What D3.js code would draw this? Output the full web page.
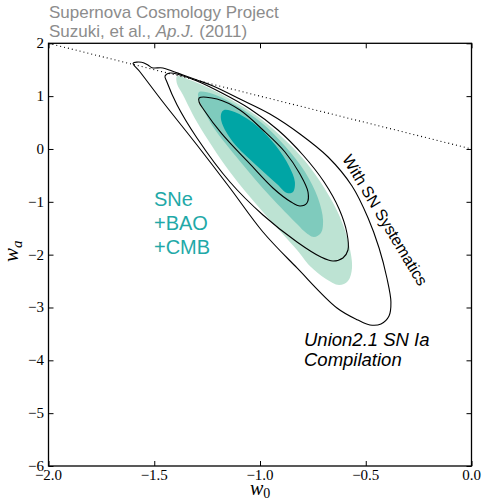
<!DOCTYPE html>
<html>
<head>
<meta charset="utf-8">
<script src="https://cdn.jsdelivr.net/npm/d3@7"></script>
<style>
  body { margin: 0; background: #fff; }
  svg { display: block; }
</style>
</head>
<body>
<svg id="chart" width="483" height="500"></svg>
<script>
// axis ticks
var xTicks = [-2.0, -1.5, -1.0, -0.5, 0.0];
var xTickLabels = ["\u22122.0", "\u22121.5", "\u22121.0", "\u22120.5", "0.0"];
var yTicks = [2, 1, 0, -1, -2, -3, -4, -5, -6];
var yTickLabels = ["2", "1", "0", "\u22121", "\u22122", "\u22123", "\u22124", "\u22125", "\u22126"];

// w0 + wa = 0 boundary
var boundary = [[-2.0, 2.0], [0.0, 0.0]];

// SNe+BAO+CMB filled contours, [w0, wa]
var fill3 = [
  [-1.392, 1.381], [-1.331, 1.305], [-1.251, 1.173], [-1.142, 0.946], [-1.014, 0.624],
  [-0.896, 0.227], [-0.787, -0.228], [-0.693, -0.757], [-0.622, -1.287], [-0.579, -1.817],
  [-0.565, -2.252], [-0.584, -2.498], [-0.626, -2.574], [-0.688, -2.461], [-0.764, -2.215],
  [-0.825, -1.912], [-0.986, -1.193], [-1.142, -0.436], [-1.298, 0.511], [-1.364, 1.022],
  [-1.392, 1.230]
];
var fill2 = [
  [-1.288, 1.078], [-1.222, 1.041], [-1.109, 0.813], [-0.991, 0.492], [-0.882, 0.056],
  [-0.787, -0.436], [-0.726, -0.928], [-0.702, -1.344], [-0.712, -1.590], [-0.745, -1.666],
  [-0.792, -1.552], [-0.825, -1.420], [-0.953, -0.890], [-1.095, -0.230], [-1.222, 0.420],
  [-1.279, 0.851], [-1.293, 1.003]
];
var fill1 = [
  [-1.170, 0.738], [-1.109, 0.681], [-1.014, 0.435], [-0.924, 0.056], [-0.863, -0.322],
  [-0.835, -0.625], [-0.844, -0.814], [-0.872, -0.833], [-0.920, -0.663], [-1.014, -0.322],
  [-1.128, 0.132], [-1.180, 0.492], [-1.184, 0.662]
];

// black contours, with SN systematics
var sysOuter = [
  [-1.600, 1.622], [-1.559, 1.640], [-1.530, 1.589], [-1.511, 1.538], [-1.459, 1.533],
  [-1.416, 1.476], [-1.364, 1.400], [-1.298, 1.305], [-1.222, 1.192], [-1.095, 0.946],
  [-0.953, 0.662], [-0.811, 0.284], [-0.678, -0.152], [-0.565, -0.701], [-0.489, -1.306],
  [-0.437, -1.874], [-0.400, -2.442], [-0.381, -2.896], [-0.390, -3.161], [-0.428, -3.312],
  [-0.480, -3.331], [-0.537, -3.237], [-0.636, -3.009], [-0.825, -2.252], [-0.986, -1.571],
  [-1.142, -0.738], [-1.298, 0.075], [-1.459, 0.889], [-1.567, 1.457]
];
var sysMiddle = [
  [-1.449, 1.381], [-1.426, 1.438], [-1.378, 1.400], [-1.298, 1.287], [-1.180, 1.059],
  [-1.047, 0.757], [-0.915, 0.359], [-0.797, -0.114], [-0.697, -0.625], [-0.626, -1.136],
  [-0.589, -1.590], [-0.584, -1.912], [-0.608, -2.063], [-0.655, -2.120], [-0.712, -2.044],
  [-0.825, -1.760], [-0.986, -1.249], [-1.142, -0.625], [-1.298, 0.208], [-1.392, 0.832],
  [-1.440, 1.268]
];
var sysInner = [
  [-1.288, 0.965], [-1.203, 0.946], [-1.095, 0.738], [-0.986, 0.359], [-0.882, -0.057],
  [-0.811, -0.474], [-0.773, -0.814], [-0.778, -1.022], [-0.811, -1.079], [-0.853, -1.003],
  [-0.939, -0.738], [-1.052, -0.265], [-1.180, 0.284], [-1.265, 0.738], [-1.288, 0.889]
];

var fills = [
  {points: fill3, color: "#bde3d3"},
  {points: fill2, color: "#7fcbbd"},
  {points: fill1, color: "#00a5a5"}
];
var lines = [sysOuter, sysMiddle, sysInner];

var svg = d3.select("#chart");
var margin = {left: 48.5, right: 471.5, top: 43.3, bottom: 466};

var x = d3.scaleLinear().domain([-2, 0]).range([margin.left, margin.right]);
var y = d3.scaleLinear().domain([-6, 2]).range([margin.bottom, margin.top]);

var serif = "'Liberation Serif', 'DejaVu Serif', serif";
var sans = "'Liberation Sans', Arial, sans-serif";

var contour = d3.line()
    .x(function(d) { return x(d[0]); })
    .y(function(d) { return y(d[1]); })
    .curve(d3.curveCatmullRomClosed.alpha(0.5));

var plot = svg.append("g");

plot.selectAll(".fill")
    .data(fills)
    .enter()
    .append("path")
    .attr("class", "fill")
    .attr("d", function(d) { return contour(d.points); })
    .attr("fill", function(d) { return d.color; })
    .attr("stroke", "none");

plot.selectAll(".sys")
    .data(lines)
    .enter()
    .append("path")
    .attr("class", "sys")
    .attr("d", contour)
    .attr("fill", "none")
    .attr("stroke", "#000")
    .attr("stroke-width", 1.1);

plot.append("path")
    .datum(boundary)
    .attr("d", d3.line()
        .x(function(d) { return x(d[0]); })
        .y(function(d) { return y(d[1]); }))
    .attr("fill", "none")
    .attr("stroke", "#000")
    .attr("stroke-width", 1.1)
    .attr("stroke-dasharray", "1,3");

// frame with inward ticks on all sides
var tickLen = 5;
var axes = svg.append("g");

axes.append("g")
    .attr("transform", "translate(0," + margin.bottom + ")")
    .call(d3.axisBottom(x).tickValues(xTicks).tickSize(-tickLen).tickFormat(""));
axes.append("g")
    .attr("transform", "translate(0," + margin.top + ")")
    .call(d3.axisTop(x).tickValues(xTicks).tickSize(-tickLen).tickFormat(""));
axes.append("g")
    .attr("transform", "translate(" + margin.left + ",0)")
    .call(d3.axisLeft(y).tickValues(yTicks).tickSize(-tickLen).tickFormat(""));
axes.append("g")
    .attr("transform", "translate(" + margin.right + ",0)")
    .call(d3.axisRight(y).tickValues(yTicks).tickSize(-tickLen).tickFormat(""));

axes.selectAll(".domain").remove();
axes.selectAll(".tick line").attr("stroke", "#000").attr("stroke-width", 1);

axes.append("rect")
    .attr("x", margin.left)
    .attr("y", margin.top)
    .attr("width", margin.right - margin.left)
    .attr("height", margin.bottom - margin.top)
    .attr("fill", "none")
    .attr("stroke", "#000")
    .attr("stroke-width", 1.3);

// tick labels
svg.selectAll(".xlab")
    .data(xTicks)
    .enter()
    .append("text")
    .attr("class", "xlab")
    .attr("x", function(d) { return x(d); })
    .attr("y", 480)
    .attr("text-anchor", "middle")
    .attr("font-family", serif)
    .attr("font-size", 15)
    .text(function(d, i) { return xTickLabels[i]; });

svg.selectAll(".ylab")
    .data(yTicks)
    .enter()
    .append("text")
    .attr("class", "ylab")
    .attr("x", 44)
    .attr("y", function(d) { return y(d) + 5; })
    .attr("text-anchor", "end")
    .attr("font-family", serif)
    .attr("font-size", 15)
    .text(function(d, i) { return yTickLabels[i]; });

// axis titles
var xt = svg.append("text")
    .attr("x", 250)
    .attr("y", 495)
    .attr("font-family", serif)
    .attr("font-style", "italic")
    .attr("font-size", 20);
xt.append("tspan").text("w");
xt.append("tspan").attr("dy", 3).attr("font-size", 14).attr("font-style", "normal").text("0");

var yt = svg.append("text")
    .attr("transform", "translate(18,262) rotate(-90)")
    .attr("font-family", serif)
    .attr("font-style", "italic")
    .attr("font-size", 21);
yt.append("tspan").text("w");
yt.append("tspan").attr("dy", 4).attr("font-size", 15).text("a");

// header
var title = svg.append("g")
    .attr("font-family", sans)
    .attr("font-size", 17)
    .attr("fill", "#8c8c8c");
title.append("text").attr("x", 49).attr("y", 18).text("Supernova Cosmology Project");
var cite = title.append("text").attr("x", 49).attr("y", 37);
cite.append("tspan").text("Suzuki, et al., ");
cite.append("tspan").attr("font-style", "italic").text("Ap.J.");
cite.append("tspan").text(" (2011)");

// annotations
var probe = svg.append("g")
    .attr("font-family", sans)
    .attr("font-size", 20)
    .attr("fill", "#1fa9a8");
probe.append("text").attr("x", 154).attr("y", 206).text("SNe");
probe.append("text").attr("x", 154).attr("y", 230).text("+BAO");
probe.append("text").attr("x", 154).attr("y", 254).text("+CMB");

svg.append("text")
    .attr("transform", "translate(385,220) rotate(59)")
    .attr("text-anchor", "middle")
    .attr("dominant-baseline", "central")
    .attr("font-family", sans)
    .attr("font-size", 16)
    .text("With SN Systematics");

var union = svg.append("g")
    .attr("font-family", sans)
    .attr("font-style", "italic")
    .attr("font-size", 18.5);
union.append("text").attr("x", 304).attr("y", 346).text("Union2.1 SN Ia");
union.append("text").attr("x", 304).attr("y", 366).text("Compilation");
</script>
</body>
</html>
